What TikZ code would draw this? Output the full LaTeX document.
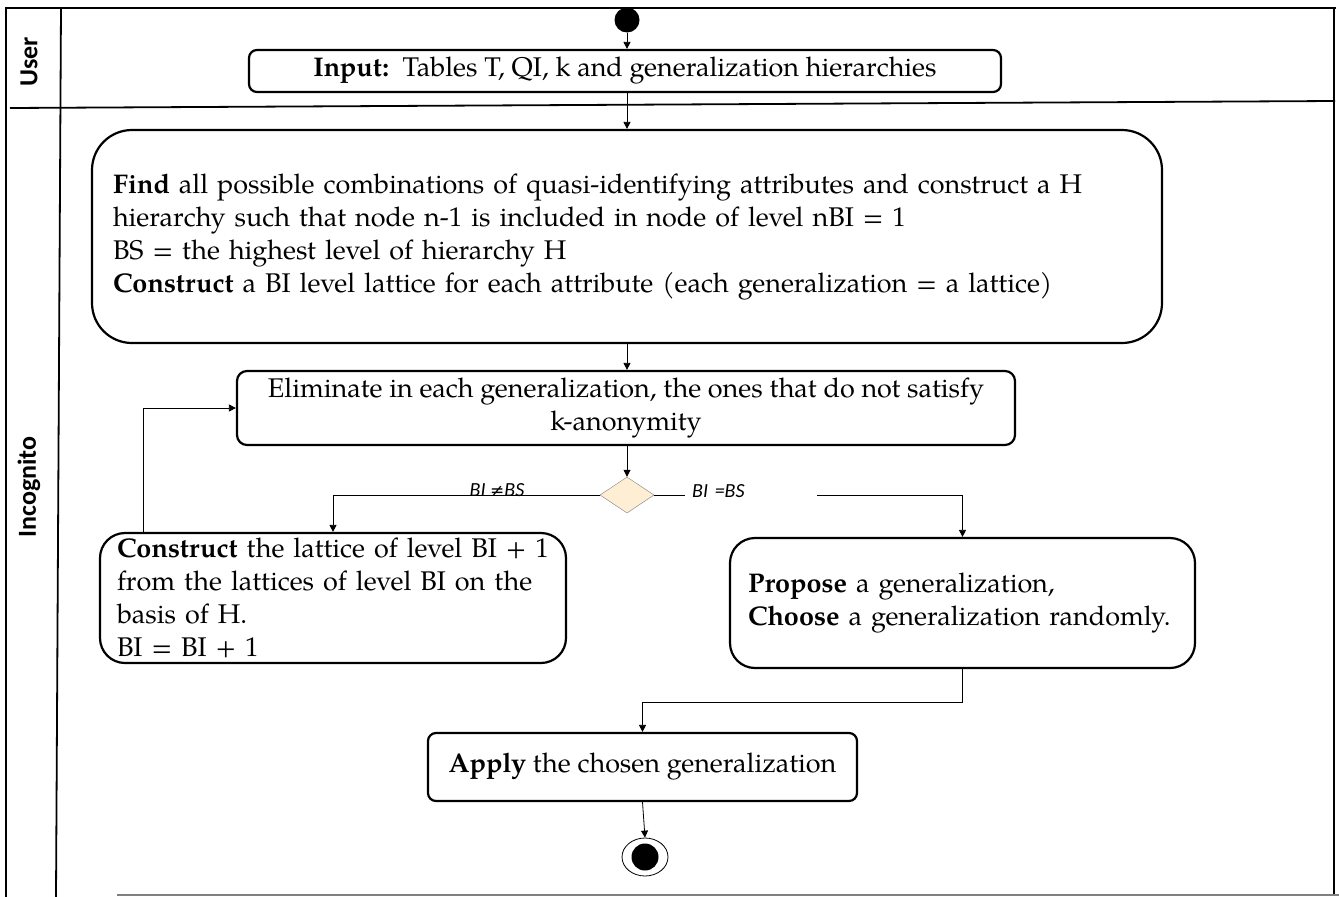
\documentclass[tikz,border=0pt]{standalone}
\usepackage{fontspec}
\setmainfont{texgyrepagella}[Extension=.otf,UprightFont=*-regular,BoldFont=*-bold,ItalicFont=*-italic,BoldItalicFont=*-bolditalic]
\newfontfamily\lanefont{Carlito}
\newfontfamily\symfont{DejaVu Sans}
\usetikzlibrary{arrows.meta,shapes.geometric}
\begin{document}
\begin{tikzpicture}[x=1pt,y=-1pt,
  box/.style={draw,line width=2.2pt,rounded corners=#1,inner ysep=0pt,font=\fontsize{27}{33}\selectfont},
  box/.default=8pt,
  arr/.style={line width=0.8pt,-{Triangle[length=7pt,width=7pt]}},
  lane/.style={line width=1.8pt},
  lanelabel/.style={rotate=90,font=\lanefont\bfseries\fontsize{26}{30}\selectfont},
  guard/.style={font=\lanefont\itshape\fontsize{20}{22}\selectfont,inner sep=1pt}]
\useasboundingbox (0,0) rectangle (1339,897);
% swimlanes
\draw[lane] (5,8) -- (1336,8);
\draw[lane] (6,8) -- (6,897);
\draw[lane] (61,8) -- (56,897);
\draw[lane] (10,108) -- (1335,101);
\draw[lane] (1334,8) -- (1334,895);
\draw[line width=1.5pt,gray] (117,895) -- (1339,895);
\node[lanelabel] (luser) at (29,62) {User};
\node[lanelabel] (linc) at (29,487) {Incognito};
% nodes
\node[circle,fill=black,minimum size=25pt,inner sep=0pt] (start) at (627,20) {};
\node[box,minimum width=752pt,minimum height=42pt,align=center] (input) at (625,71)
  {\textbf{Input:}\ \ Tables T, QI, k and generalization hierarchies};
\node[box=40pt,minimum height=213pt,text width=1028pt,inner xsep=21pt,align=left] (find) at (627,236.5)
  {\textbf{Find} all possible combinations of quasi-identifying attributes and construct a H\\
   hierarchy such that node n-1 is included in node of level nBI = 1\\
   BS = the highest level of hierarchy H\\
   \textbf{Construct} a BI level lattice for each attribute (each generalization = a lattice)};
\node[box=10pt,minimum width=778pt,minimum height=74pt,align=center] (elim) at (626,408)
  {Eliminate in each generalization,\ the ones\ that do not satisfy\\ k-anonymity};
\node[diamond,draw=gray,fill=yellow!20!orange!15,minimum width=54pt,minimum height=36pt,inner sep=0pt] (dia) at (627,495) {};
\node[box=25pt,minimum height=130pt,text width=432pt,inner xsep=17pt,align=left] (cons) at (333,598)
  {\textbf{Construct} the lattice of level BI + 1\\ from the lattices of level BI on the\\ basis of H.\\ BI = BI + 1};
\node[box=25pt,minimum height=130pt,text width=429pt,inner xsep=18pt,align=left] (prop) at (962.5,603)
  {\textbf{Propose} a generalization,\\ \textbf{Choose} a generalization randomly.};
\node[box,minimum width=429pt,minimum height=68pt,align=center] (apply) at (642.5,767)
  {\textbf{Apply} the chosen generalization};
\node[ellipse,draw,line width=0.8pt,minimum width=46pt,minimum height=38pt,inner sep=0pt] (end) at (645,857) {};
\node[circle,fill=black,minimum size=27pt,inner sep=0pt] (endin) at (end.center) {};
% connectors
\draw[arr] (start) -- (start |- input.north);
\draw[arr] (input.south -| start) -- (find.north -| start);
\draw[arr] (find.south -| start) -- (elim.north -| start);
\draw[arr] (elim.south -| start) -- (dia.north);
\draw[arr] (dia.west) -| (cons.north);
\node[guard] (gne) at (497,490) {BI {\symfont\upshape\fontsize{17}{20}\selectfont ≠}BS};
\draw[arr] (dia.east) -| (prop.north);
\node[guard,fill=white,anchor=west,minimum width=132pt,text width=118pt,inner xsep=7pt,align=left] (geq) at (685,491) {BI =BS};
\coordinate (loopstart) at ([xshift=44pt]cons.north west);
\draw[arr] (loopstart) |- (elim.west);
\draw[arr] (prop.south) -- ++(0,33) -| (apply.north);
\draw[arr] (apply.south) -- (end.north);
\end{tikzpicture}
\end{document}
